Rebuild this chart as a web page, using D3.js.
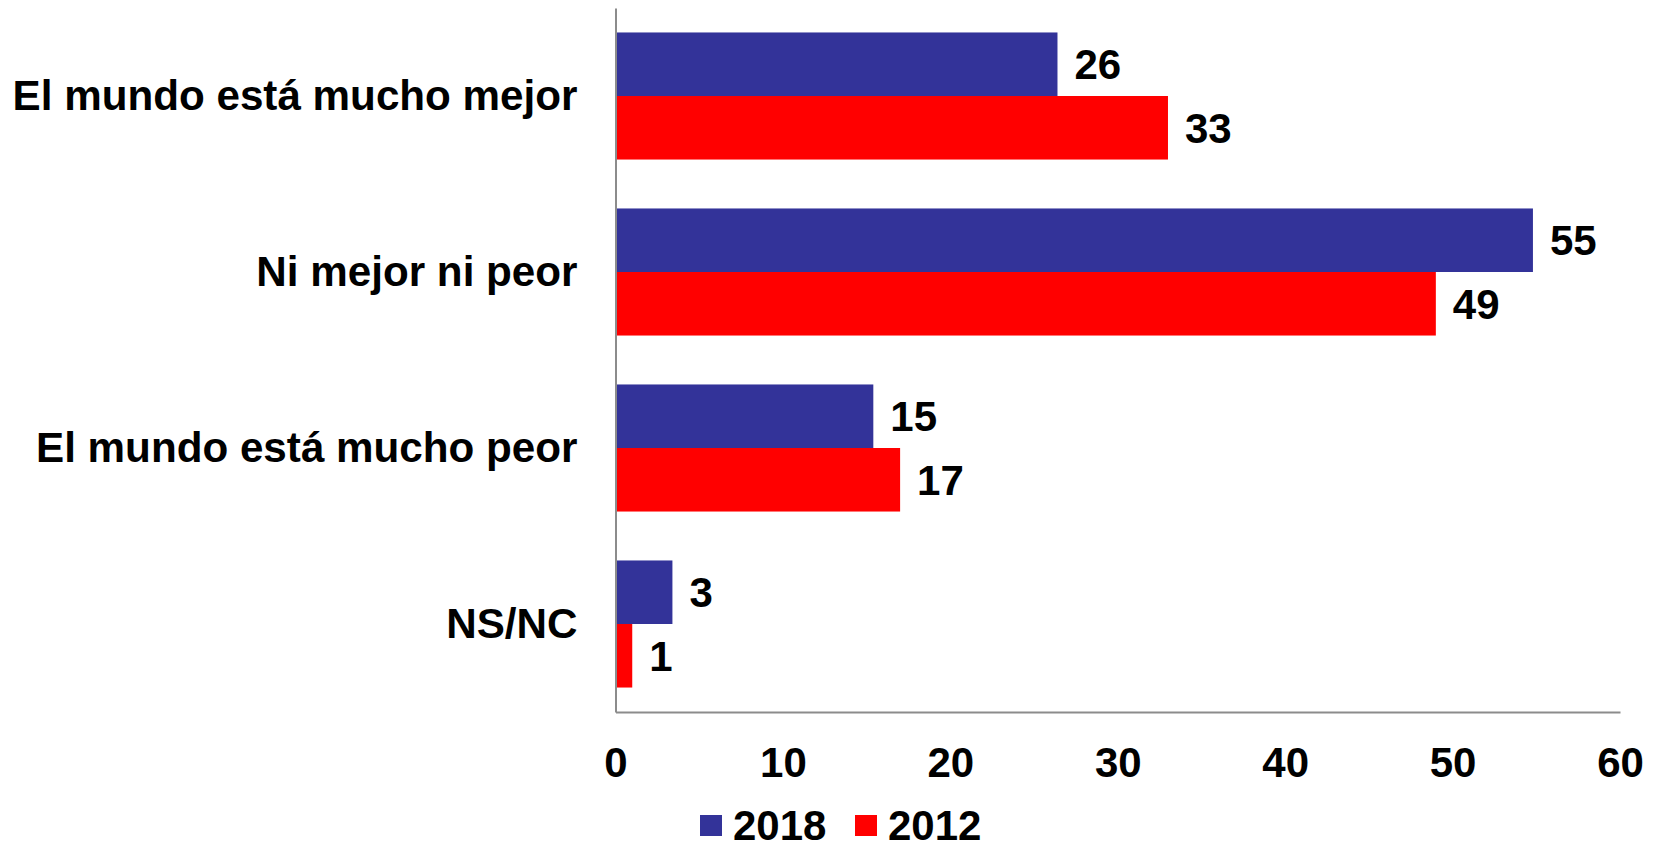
<!DOCTYPE html>
<html>
<head>
<meta charset="utf-8">
<script src="https://cdn.jsdelivr.net/npm/d3@7"></script>
<style>
  html, body { margin: 0; padding: 0; background: #fff; }
  svg { display: block; }
  text { font-family: "Liberation Sans", Arial, sans-serif; font-weight: bold; fill: #000; }
</style>
</head>
<body>
<svg id="chart" width="1655" height="850"></svg>
<script>
const categories = ["El mundo está mucho mejor", "Ni mejor ni peor", "El mundo está mucho peor", "NS/NC"];
const seriesNames = ["2018", "2012"];
const values2018 = [26.4, 54.8, 15.4, 3.4];
const values2012 = [33, 49, 17, 1];
const xTicks = [0, 10, 20, 30, 40, 50, 60];
const colors = ["#333399", "#FF0000"];

const seriesValues = [values2018, values2012];
const svg = d3.select("#chart");
const margin = { left: 615.5, right: 35, top: 8, bottom: 138 };
const W = 1655, H = 850;

const x = d3.scaleLinear().domain([0, 60]).range([margin.left, W - margin.right]);
const y = d3.scaleBand().domain(categories).range([margin.top, H - margin.bottom])
  .paddingInner(0.278).paddingOuter(0.139);
const ySub = d3.scaleBand().domain(seriesNames).range([0, y.bandwidth()]);

const rows = categories.map((c, i) => ({ cat: c, vals: seriesNames.map((s, j) => ({ s, j, v: seriesValues[j][i] })) }));

const g = svg.append("g");
const groups = g.selectAll("g.cat").data(rows).join("g")
  .attr("transform", d => `translate(0,${y(d.cat)})`);

groups.selectAll("rect").data(d => d.vals).join("rect")
  .attr("x", x(0))
  .attr("y", d => ySub(d.s))
  .attr("width", d => x(d.v) - x(0))
  .attr("height", ySub.bandwidth())
  .attr("fill", d => colors[d.j]);

groups.selectAll("text.val").data(d => d.vals).join("text")
  .attr("class", "val")
  .attr("x", d => x(d.v) + 17)
  .attr("y", d => ySub(d.s) + ySub.bandwidth() / 2)
  .attr("dy", "0.36em")
  .attr("font-size", 42)
  .text(d => d3.format(".0f")(d.v));

// Axes
const xAxis = d3.axisBottom(x).tickValues(xTicks).tickSize(0).tickPadding(35).tickFormat(d3.format("d"));
const gx = svg.append("g").attr("transform", `translate(0,${H - margin.bottom})`).call(xAxis);
gx.select(".domain").attr("stroke", "#8c8c8c").attr("stroke-width", 2);
gx.selectAll(".tick text").attr("font-size", 42).attr("font-family", "Liberation Sans, Arial, sans-serif").attr("font-weight", "bold").attr("fill", "#000");

const yAxis = d3.axisLeft(y).tickSize(0).tickPadding(38);
const gy = svg.append("g").attr("transform", `translate(${margin.left},0)`).call(yAxis);
gy.select(".domain").attr("stroke", "#8c8c8c").attr("stroke-width", 2);
gy.selectAll(".tick text").attr("font-size", 42.2).attr("font-family", "Liberation Sans, Arial, sans-serif").attr("font-weight", "bold").attr("fill", "#000");

// Legend
const legend = svg.append("g").attr("transform", "translate(700,815)");
const items = [{ name: seriesNames[0], color: colors[0], dx: 0 }, { name: seriesNames[1], color: colors[1], dx: 155 }];
const li = legend.selectAll("g").data(items).join("g").attr("transform", d => `translate(${d.dx},0)`);
li.append("rect").attr("width", 22).attr("height", 21).attr("fill", d => d.color);
li.append("text").attr("x", 33).attr("y", 25).attr("font-size", 42).text(d => d.name);
</script>
</body>
</html>
